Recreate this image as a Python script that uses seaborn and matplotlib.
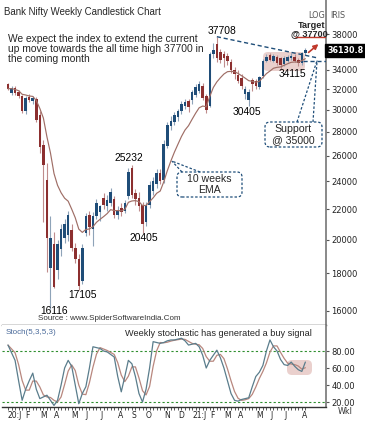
import numpy as np
import pandas as pd
import matplotlib
matplotlib.use("Agg")
import matplotlib.pyplot as plt
import seaborn as sns
from matplotlib import font_manager
from matplotlib.patches import FancyBboxPatch
from matplotlib.transforms import IdentityTransform
from matplotlib.ticker import NullLocator

# weekly Bank Nifty candles, Jan 2020 - Aug 2021
opens = [32500, 31600, 32100, 31700, 31300, 29900, 31200, 30800, 31000, 29500,
         26900, 24100, 18300, 19700, 18200, 19400, 20100, 20300, 20600, 19500,
         18800, 17600, 20400, 21600, 20700, 21500, 21800, 22800, 22200, 22400,
         22700, 21600, 22100, 21900, 22900, 25000, 23100, 22800, 22300, 21100,
         22300, 23300, 23800, 24600, 24100, 26800, 28500, 28900, 29300, 29900,
         30400, 30800, 30900, 31400, 31800, 32300, 31300, 30400, 35700, 36800,
         35900, 35700, 35500, 34800, 34000, 33500, 33100, 31500, 30900, 32900,
         32800, 32200, 33300, 35000, 35600, 35000, 35400, 35300, 34600, 35000,
         35300, 35400, 35100, 34700, 35800]
highs = [32650, 32300, 32300, 31900, 31400, 31300, 31500, 31300, 31200, 29900,
         27300, 25400, 21500, 20500, 20000, 21000, 21300, 21900, 21000, 19800,
         19100, 19700, 21700, 21900, 21800, 22700, 22300, 23100, 23000, 23500,
         22900, 22200, 22400, 22600, 25000, 25232, 23400, 23200, 22500, 22500,
         24000, 24300, 24900, 24900, 27300, 28900, 29400, 29800, 30100, 30800,
         31000, 31000, 31900, 32500, 32800, 32600, 31500, 36000, 37000, 37708,
         36300, 36100, 35800, 35200, 34300, 34000, 33600, 32300, 32000, 33100,
         33000, 33400, 35200, 35700, 35800, 35700, 35600, 35400, 35500, 35600,
         35800, 35700, 35300, 36000, 36400]
lows = [31900, 31400, 31400, 31100, 29700, 29600, 30700, 30600, 28900, 26200,
        21100, 18100, 16116, 17200, 17700, 19000, 19800, 19900, 19300, 18600,
        17105, 17400, 20200, 20300, 19600, 21300, 21200, 22000, 21900, 22200,
        21400, 21300, 21500, 21700, 22700, 22800, 22300, 21900, 20405, 20900,
        22100, 23000, 23500, 23800, 23900, 26600, 28200, 28600, 29000, 29600,
        30100, 29800, 30600, 31200, 31600, 30900, 29700, 30300, 35300, 34800,
        34700, 34300, 34500, 33700, 33000, 32600, 32000, 31000, 30405, 31800,
        32000, 32000, 33100, 34800, 34900, 34800, 34500, 34115, 34400, 34800,
        35100, 34800, 34400, 34500, 35600]
closes = [32050, 32100, 31600, 31300, 29900, 31100, 30900, 31100, 29100, 26700,
          25250, 20100, 20100, 17250, 19700, 20700, 21000, 21600, 19500, 18800,
          17300, 19500, 21500, 20800, 21500, 22400, 22200, 22300, 22600, 23200,
          21600, 21900, 21800, 22400, 24700, 23000, 22700, 22200, 21000, 22300,
          23700, 24000, 24600, 24000, 27000, 28600, 29000, 29500, 29900, 30600,
          30700, 30300, 31700, 32200, 32500, 31100, 30000, 35700, 36200, 35300,
          35100, 35300, 34900, 34000, 33600, 32800, 32300, 32000, 31700, 32500,
          32300, 33200, 35000, 35400, 35100, 35500, 34700, 34500, 35300, 35400,
          35500, 35000, 34700, 35800, 36130.8]

# weekly stochastic %K (5,3)
stoch_k = [87, 78, 69, 45, 22, 35, 45, 54, 35, 24,
           26, 28, 22, 16, 22, 40, 60, 69, 62, 40,
           18, 30, 38, 60, 85, 84, 83, 80, 79, 76,
           73, 50, 32, 50, 69, 65, 50, 30, 20, 35,
           60, 91, 90, 89, 90, 92, 93, 93, 94, 95,
           92, 87, 88, 89, 85, 75, 60, 69, 75, 81,
           72, 60, 45, 30, 22, 21, 23, 24, 25, 38,
           50, 55, 63, 80, 93, 85, 80, 70, 64, 63,
           67, 62, 58, 56, 67]

month_weeks = [0, 5, 9, 13, 18, 22, 26, 31, 35, 39, 44, 48, 52, 57, 61, 65, 70, 74, 78, 83]
month_labels = ['20:J', 'F', 'M', 'A', 'M', 'J', 'J', 'A', 'S', 'O', 'N', 'D',
                '21:J', 'F', 'M', 'A', 'M', 'J', 'J', 'A']
price_ticks = list(range(16000, 38001, 2000))
stoch_ticks = [20, 40, 60, 80]

df = pd.DataFrame({'week': np.arange(len(closes)), 'open': opens, 'high': highs,
                   'low': lows, 'close': closes, 'k': stoch_k})
df['ema'] = df['close'].ewm(span=10, adjust=False).mean()
df['d'] = df['k'].rolling(3, min_periods=1).mean()

sns.set_theme(style="white")
avail = {f.name for f in font_manager.fontManager.ttflist}
NARROW = 'Liberation Sans Narrow' if 'Liberation Sans Narrow' in avail else 'Liberation Sans'
plt.rcParams['font.family'] = ['DejaVu Sans']

BLUE, RED = '#1f4d78', '#8c2f2f'
BLUE_W, RED_W = '#8ea3b8', '#bf8c8c'
NAVY = '#1f4e79'
PINK = '#ead0cd'

W, H = 365, 429
fig = plt.figure(figsize=(W / 100, H / 100), dpi=100)


def frac(x0, y0, x1, y1):
    return [x0 / W, 1 - y1 / H, (x1 - x0) / W, (y1 - y0) / H]


ax = fig.add_axes(frac(2, 0, 326, 325))
ax2 = fig.add_axes(frac(2, 325, 326, 406.7))
for a in (ax, ax2):
    a.set_xlim(-1.69, 89.83)
    a.set_facecolor('white')
    for s in ('top', 'left'):
        a.spines[s].set_visible(False)
    a.spines['right'].set_color('#808080')
    a.spines['right'].set_linewidth(1.3)
    a.spines['bottom'].set_color('#333333')
    a.spines['bottom'].set_linewidth(1.0)

ax.set_yscale('log')
ax.set_ylim(15315, 42290)
ax2.set_ylim(14.5, 110.6)

PX = IdentityTransform()


def rbox(target, x0, y0, x1, y1, **kw):
    p = FancyBboxPatch((x0, H - y1), x1 - x0, y1 - y0,
                       boxstyle='round,pad=0,rounding_size=5', transform=PX, **kw)
    p.set_clip_on(False)
    target.add_patch(p) if hasattr(target, 'add_patch') else target.add_artist(p)


# shaded consolidation zones
rbox(ax, 263, 52, 305, 71, facecolor=PINK, edgecolor='none', zorder=1)
rbox(ax2, 287, 360, 312, 375, facecolor=PINK, edgecolor='none', zorder=1)

# candles
up = df['close'] >= df['open']
ax.vlines(df['week'], df['low'], df['high'], colors=np.where(up, BLUE_W, RED_W),
          lw=0.8, zorder=2)
ax.bar(df['week'], (df['close'] - df['open']).abs(),
       bottom=df[['open', 'close']].min(axis=1), width=0.72,
       color=np.where(up, BLUE, RED), linewidth=0, zorder=3)

sns.lineplot(data=df, x='week', y='ema', ax=ax, color='#9f6e66', lw=0.85,
             legend=False, zorder=4)

# trend line, support and target
peak = df['high'].idxmax()
ax.plot([peak, 87.3], [df['high'][peak], 35300], color=NAVY, lw=1.0,
        ls=(0, (3, 2)), zorder=5)
ax.hlines(35000, 83.3, 89.83, color=NAVY, lw=1.0, ls=(0, (3, 2)), zorder=5)
ax.hlines(37700, 81.1, 89.83, color='#c0392b', lw=1.0, zorder=5)
ax.annotate('', xy=(88.3, 37050), xytext=(84.3, 35700),
            arrowprops=dict(arrowstyle='-|>', color='#c0392b', lw=1.2,
                            mutation_scale=7), zorder=6)

ax.set_xlabel('')
ax.set_ylabel('')
ax.set_xticks([])
ax.yaxis.tick_right()
ax.yaxis.set_minor_locator(NullLocator())
ax.set_yticks(price_ticks)
ax.set_yticklabels(['' if t == 36000 else str(t) for t in price_ticks])
ax.tick_params(axis='y', which='major', direction='out', length=2.5, width=0.8,
               color='#555555', labelsize=6, pad=1.5, labelcolor='#222222', right=True)

# high / low labels
lab = dict(family=NARROW, fontsize=7.4, color='black', textcoords='offset pixels',
           ha='center')
ax.annotate('37708', (peak, df['high'][peak]), xytext=(5, 1), va='bottom', **lab)
ax.annotate('25232', (35, highs[35]), xytext=(-3, 2), va='bottom', **lab)
ax.annotate('16116', (12, lows[12]), xytext=(4, 3), va='top', **lab)
ax.annotate('17105', (20, lows[20]), xytext=(4, 0), va='top', **lab)
ax.annotate('20405', (38, lows[38]), xytext=(1, 0), va='top', **lab)
ax.annotate('30405', (68, lows[68]), xytext=(-2, -1), va='top', **lab)
ax.annotate('34115', (77, lows[77]), xytext=(12, 0), va='top', **lab)

ax.text(1.004, 36130.8, '36130.8', transform=ax.get_yaxis_transform(), ha='left',
        va='center', fontsize=5.8, color='white', fontweight='bold',
        bbox=dict(boxstyle='square,pad=0.25', fc='black', ec='black'), zorder=10,
        clip_on=False)


def to_px(a, x, y):
    dx, dy = a.transData.transform((x, y))
    return dx, H - dy


# callouts
rbox(fig, 265, 122, 322, 147, facecolor='none', edgecolor=NAVY, lw=0.9,
     ls=(0, (2, 1.5)), zorder=5)
tx, ty = to_px(ax, 87.3, 35000)
for bx in (297, 313):
    fig.add_artist(plt.Line2D([bx, tx], [H - 122, H - ty], transform=PX, color=NAVY,
                              lw=0.9, ls=(0, (2, 1.5))))
fig.text(293.5 / W, 1 - 134.5 / H, 'Support\n@ 35000', ha='center', va='center',
         family=NARROW, fontsize=7.6, linespacing=1.05)

rbox(fig, 177, 172, 242, 197, facecolor='none', edgecolor=NAVY, lw=0.9,
     ls=(0, (2, 1.5)), zorder=5)
tx, ty = to_px(ax, 46.3, df['ema'][46])
for bx in (182, 200):
    fig.add_artist(plt.Line2D([bx, tx], [H - 172, H - ty], transform=PX, color=NAVY,
                              lw=0.9, ls=(0, (2, 1.5))))
fig.text(209.5 / W, 1 - 184.5 / H, '10 weeks\nEMA', ha='center', va='center',
         family=NARROW, fontsize=7.6, linespacing=1.05)

# texts
fig.text(4 / W, 1 - 12 / H, 'Bank Nifty Weekly Candlestick Chart', ha='left',
         va='center', family=NARROW, fontsize=6.9)
fig.text(8 / W, 1 - 49 / H, 'We expect the index to extend the current\n'
         'up move towards the all time high 37700 in\nthe coming month',
         ha='left', va='center', family=NARROW, fontsize=7.4, linespacing=1.0)
fig.text(316.5 / W, 1 - 15 / H, 'LOG', ha='center', va='center', fontsize=5.8,
         color='#555555')
fig.text(338 / W, 1 - 15 / H, 'IRIS', ha='center', va='center', fontsize=5.8,
         color='#555555')
fig.text(312 / W, 1 - 25.5 / H, 'Target', ha='center', va='center', family=NARROW,
         fontsize=6.6, fontweight='bold')
fig.text(309.5 / W, 1 - 34 / H, '@ 37700', ha='center', va='center', family=NARROW,
         fontsize=6.6, fontweight='bold')
fig.text(38 / W, 1 - 318 / H, 'Source : www.SpiderSoftwareIndia.Com', ha='left',
         va='center', family='Liberation Sans', fontsize=5.8, color='#333333')

# stochastic panel
sns.lineplot(data=df, x='week', y='d', ax=ax2, color='#b8877e', lw=0.9,
             legend=False, zorder=3)
sns.lineplot(data=df, x='week', y='k', ax=ax2, color='#5a7d8c', lw=0.9,
             legend=False, zorder=4)
for lvl in (80, 20):
    ax2.axhline(lvl, color='#2f8f2f', lw=0.8, ls=(0, (2, 2)), zorder=2)
ax2.set_xlabel('')
ax2.set_ylabel('')
ax2.yaxis.tick_right()
ax2.set_yticks(stoch_ticks)
ax2.set_yticklabels([f'{t:.2f}' for t in stoch_ticks])
ax2.tick_params(axis='y', direction='out', length=2.5, width=0.8, color='#555555',
                labelsize=6, pad=1.5, labelcolor='#222222', right=True)
ax2.set_xticks(month_weeks)
ax2.set_xticklabels(month_labels, ha='left')
ax2.set_xticks(df['week'], minor=True)
ax2.tick_params(axis='x', which='both', direction='out', length=2, width=0.7,
                color='#555555', labelsize=5.5, pad=1, labelcolor='#222222',
                bottom=True)
ax2.text(0.01, 0.91, 'Stoch(5,3,5,3)', transform=ax2.transAxes, ha='left', va='center',
         family='Liberation Sans', fontsize=5.8, color='#4a6a9a')
fig.text(125 / W, 1 - 333 / H, 'Weekly stochastic has generated a buy signal',
         ha='left', va='center', family=NARROW, fontsize=6.6)
fig.text(345 / W, 1 - 412 / H, 'Wkl', ha='center', va='center', fontsize=5.8,
         color='#333333')

fig.savefig('out.png', dpi=100)
